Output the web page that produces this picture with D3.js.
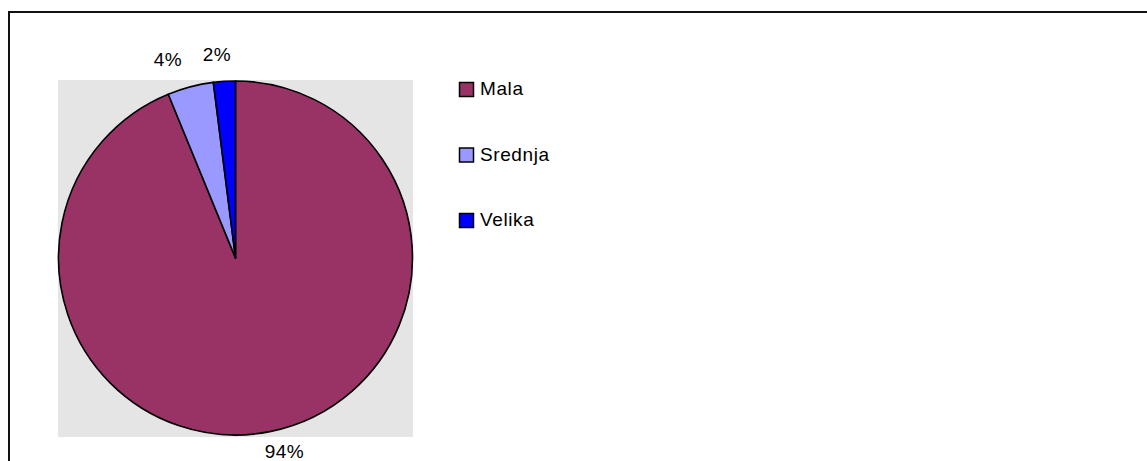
<!DOCTYPE html>
<html><head><meta charset="utf-8">
<script src="https://cdn.jsdelivr.net/npm/d3@7"></script>
<style>body{margin:0;background:#fff;}svg{display:block;font-family:"Liberation Sans",Arial,sans-serif;}</style>
</head><body>
<svg id="c" width="1147" height="461"></svg>
<script>
const categories = ["Mala", "Srednja", "Velika"];
const values = [93.8, 4.2, 2.0];
const labels = ["94%", "4%", "2%"];
const colors = ["#993366", "#9999FF", "#0000FF"];

const svg = d3.select("#c");
// frame
svg.append("line").attr("x1",9).attr("x2",1147).attr("y1",12).attr("y2",12).attr("stroke","#111").attr("stroke-width",2);
svg.append("line").attr("x1",9).attr("x2",9).attr("y1",11).attr("y2",461).attr("stroke","#111").attr("stroke-width",2);

// plot area
svg.append("rect").attr("x",58).attr("y",80).attr("width",355).attr("height",357).attr("fill","#E5E5E5");

const cx = 235.5, cy = 258, r = 177;
const pie = d3.pie().sort(null).value(d=>d)(values);
const arc = d3.arc().innerRadius(0).outerRadius(r);
const g = svg.append("g").attr("transform",`translate(${cx},${cy})`);
g.selectAll("path").data(pie).join("path")
  .attr("d",arc).attr("fill",(d,i)=>colors[i])
  .attr("stroke","#000").attr("stroke-width",1.6).attr("stroke-linejoin","round");

// data labels
const lblPos = [[284.5,458],[168,66],[217,61]];
svg.selectAll("text.lbl").data(pie).join("text").attr("class","lbl")
  .attr("x",(d,i)=>lblPos[i][0]).attr("y",(d,i)=>lblPos[i][1])
  .attr("text-anchor","middle").attr("font-size",19).attr("letter-spacing",0.5).attr("fill","#000")
  .text((d,i)=>labels[i]);

// legend
const lg = svg.append("g");
categories.forEach((c,i)=>{
  const y = 82 + i*65.5;
  lg.append("rect").attr("x",459.5).attr("y",y+0.5).attr("width",14).attr("height",14)
    .attr("fill",colors[i]).attr("stroke","#000").attr("stroke-width",1.5);
  lg.append("text").attr("x",480).attr("y",y+13).attr("font-size",19).attr("letter-spacing",0.6).text(c);
});
</script>
</body></html>
